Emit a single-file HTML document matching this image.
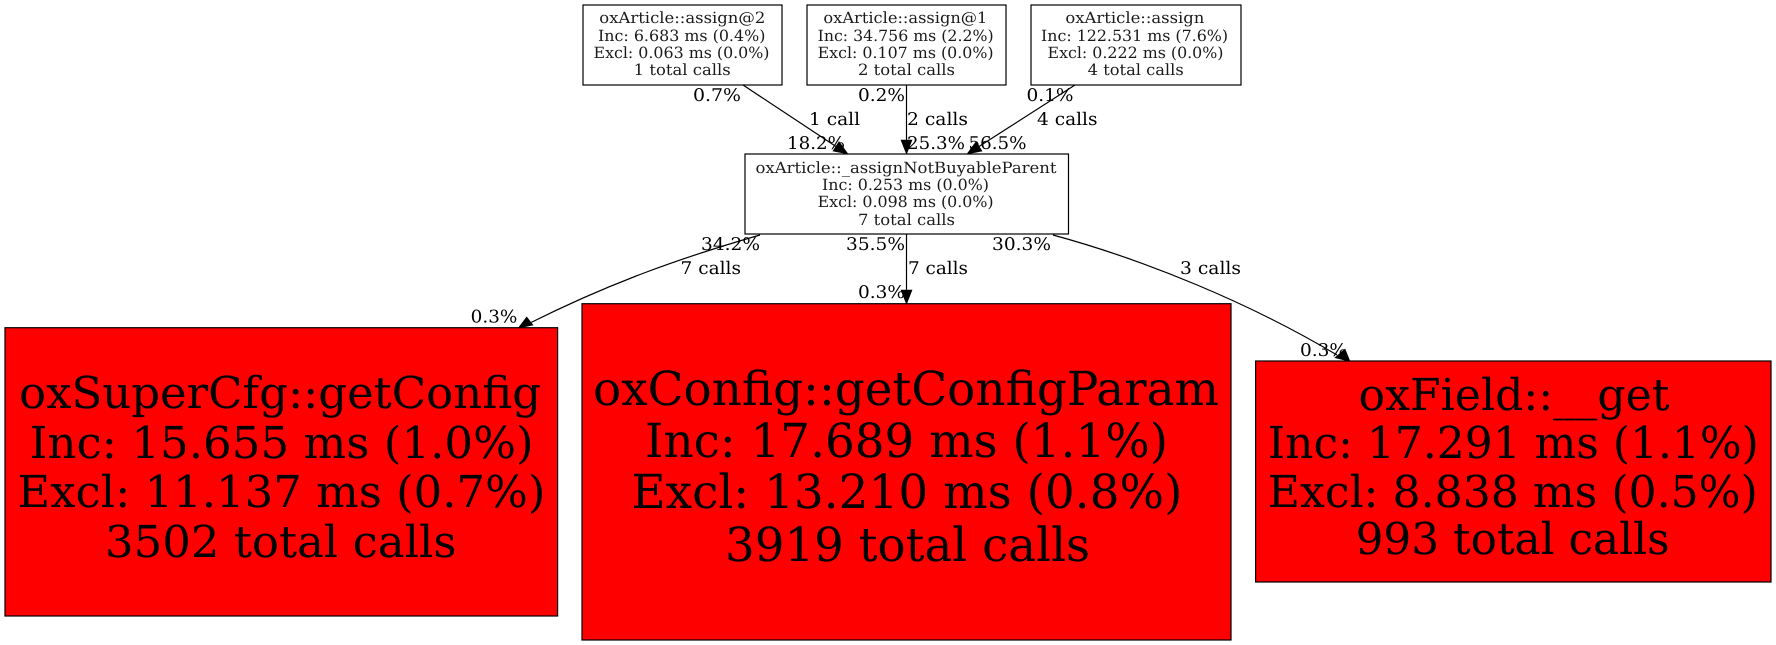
<!DOCTYPE html>
<html><head><meta charset="utf-8"><style>
html,body{margin:0;padding:0;background:#fff;width:1776px;height:645px;overflow:hidden}
svg{display:block}
text{font-family:"DejaVu Serif","Liberation Serif",serif;fill:#000;font-variant-ligatures:common-ligatures;text-rendering:geometricPrecision}
.s{font-size:15.5px;fill:#1a1a1a}.e{font-size:17.5px}.b{font-size:44px}.p{font-size:47px}
rect{stroke:#000;stroke-width:1.2}
path,line{stroke:#000;stroke-width:1.2;fill:none}
polygon{fill:#000;stroke:#000;stroke-width:.6}
</style></head><body>
<svg width="1776" height="645" viewBox="0 0 1776 645" xmlns="http://www.w3.org/2000/svg">
<line x1="743" y1="85" x2="836" y2="146.5"/>
<polygon points="848,154 833,151 839,141.7"/>
<line x1="906.5" y1="85" x2="906.5" y2="141"/>
<polygon points="906.5,154 901,140 912,140"/>
<line x1="1075" y1="85" x2="979" y2="146.5"/>
<polygon points="967,154 976,141.8 982,151"/>
<path d="M760,235 C680,258 610,283 530,323"/>
<polygon points="518.3,328 526.7,317 533,325"/>
<line x1="906.5" y1="234" x2="906.5" y2="291"/>
<polygon points="906.5,304 901,290 912,290"/>
<path d="M1053,235 C1145,260 1250,303 1337,355"/>
<polygon points="1350,361.5 1345,349 1335,357.7"/>

<rect x="583" y="5" width="199" height="80" fill="#fff"/>
<rect x="807" y="5" width="199" height="80" fill="#fff"/>
<rect x="1031" y="5" width="210" height="80" fill="#fff"/>
<rect x="745" y="154" width="323.5" height="80" fill="#fff"/>
<rect x="5" y="327.7" width="552.6" height="288.3" fill="#f00"/>
<rect x="582" y="303.7" width="649" height="336.3" fill="#f00"/>
<rect x="1255.6" y="361" width="515.4" height="221" fill="#f00"/>

<text class="s" x="599.3" y="23" textLength="166" lengthAdjust="spacingAndGlyphs">oxArticle::assign@2</text>
<text class="s" x="598" y="41" textLength="167.4" lengthAdjust="spacingAndGlyphs">Inc: 6.683 ms (0.4%)</text>
<text class="s" x="593.5" y="58" textLength="176" lengthAdjust="spacingAndGlyphs">Excl: 0.063 ms (0.0%)</text>
<text class="s" x="633.7" y="75" textLength="97" lengthAdjust="spacingAndGlyphs">1 total calls</text>

<text class="s" x="823.4" y="23" textLength="164" lengthAdjust="spacingAndGlyphs">oxArticle::assign@1</text>
<text class="s" x="817.6" y="41" textLength="176" lengthAdjust="spacingAndGlyphs">Inc: 34.756 ms (2.2%)</text>
<text class="s" x="817.6" y="58" textLength="176" lengthAdjust="spacingAndGlyphs">Excl: 0.107 ms (0.0%)</text>
<text class="s" x="858" y="75" textLength="97" lengthAdjust="spacingAndGlyphs">2 total calls</text>

<text class="s" x="1065.4" y="23" textLength="139" lengthAdjust="spacingAndGlyphs">oxArticle::assign</text>
<text class="s" x="1041" y="41" textLength="187" lengthAdjust="spacingAndGlyphs">Inc: 122.531 ms (7.6%)</text>
<text class="s" x="1047.5" y="58" textLength="176" lengthAdjust="spacingAndGlyphs">Excl: 0.222 ms (0.0%)</text>
<text class="s" x="1087.7" y="75" textLength="96" lengthAdjust="spacingAndGlyphs">4 total calls</text>

<text class="s" x="755.5" y="173" textLength="301" lengthAdjust="spacingAndGlyphs">oxArticle::_assignNotBuyableParent</text>
<text class="s" x="822" y="190" textLength="167" lengthAdjust="spacingAndGlyphs">Inc: 0.253 ms (0.0%)</text>
<text class="s" x="817.6" y="207" textLength="176" lengthAdjust="spacingAndGlyphs">Excl: 0.098 ms (0.0%)</text>
<text class="s" x="858" y="225" textLength="97" lengthAdjust="spacingAndGlyphs">7 total calls</text>

<text class="b" x="19" y="408" textLength="522" lengthAdjust="spacingAndGlyphs">oxSuperCfg::getConfig</text>
<text class="b" x="29.6" y="458" textLength="504" lengthAdjust="spacingAndGlyphs">Inc: 15.655 ms (1.0%)</text>
<text class="b" x="17.4" y="507" textLength="528" lengthAdjust="spacingAndGlyphs">Excl: 11.137 ms (0.7%)</text>
<text class="b" x="105" y="557" textLength="351.5" lengthAdjust="spacingAndGlyphs">3502 total calls</text>

<text class="p" x="593" y="405" textLength="626" lengthAdjust="spacingAndGlyphs">oxConfig::getConfigParam</text>
<text class="p" x="645" y="457" textLength="523" lengthAdjust="spacingAndGlyphs">Inc: 17.689 ms (1.1%)</text>
<text class="p" x="631.4" y="508" textLength="551" lengthAdjust="spacingAndGlyphs">Excl: 13.210 ms (0.8%)</text>
<text class="p" x="725" y="561" textLength="365" lengthAdjust="spacingAndGlyphs">3919 total calls</text>

<text class="b" x="1358.5" y="410" textLength="311" lengthAdjust="spacingAndGlyphs">oxField::__get</text>
<text class="b" x="1267.8" y="458" textLength="491" lengthAdjust="spacingAndGlyphs">Inc: 17.291 ms (1.1%)</text>
<text class="b" x="1267.8" y="507" textLength="490" lengthAdjust="spacingAndGlyphs">Excl: 8.838 ms (0.5%)</text>
<text class="b" x="1355.6" y="554" textLength="314" lengthAdjust="spacingAndGlyphs">993 total calls</text>

<text class="e" x="693" y="101" textLength="48" lengthAdjust="spacingAndGlyphs">0.7%</text>
<text class="e" x="809" y="125" textLength="51" lengthAdjust="spacingAndGlyphs">1 call</text>
<text class="e" x="787" y="149" textLength="58" lengthAdjust="spacingAndGlyphs">18.2%</text>
<text class="e" x="858" y="101" textLength="47" lengthAdjust="spacingAndGlyphs">0.2%</text>
<text class="e" x="907" y="125" textLength="61" lengthAdjust="spacingAndGlyphs">2 calls</text>
<text class="e" x="907" y="149" textLength="58" lengthAdjust="spacingAndGlyphs">25.3%</text>
<text class="e" x="1026.5" y="101" textLength="47" lengthAdjust="spacingAndGlyphs">0.1%</text>
<text class="e" x="1037" y="125" textLength="60.5" lengthAdjust="spacingAndGlyphs">4 calls</text>
<text class="e" x="968.5" y="149" textLength="58" lengthAdjust="spacingAndGlyphs">56.5%</text>
<text class="e" x="701" y="250" textLength="59" lengthAdjust="spacingAndGlyphs">34.2%</text>
<text class="e" x="680.5" y="274" textLength="60.5" lengthAdjust="spacingAndGlyphs">7 calls</text>
<text class="e" x="846" y="250" textLength="59" lengthAdjust="spacingAndGlyphs">35.5%</text>
<text class="e" x="908" y="274" textLength="60" lengthAdjust="spacingAndGlyphs">7 calls</text>
<text class="e" x="992" y="250" textLength="59" lengthAdjust="spacingAndGlyphs">30.3%</text>
<text class="e" x="1180" y="274" textLength="61" lengthAdjust="spacingAndGlyphs">3 calls</text>
<text class="e" x="858" y="298" textLength="47" lengthAdjust="spacingAndGlyphs">0.3%</text>
<text class="e" x="470.7" y="322.7" textLength="46.7" lengthAdjust="spacingAndGlyphs">0.3%</text>
<text class="e" x="1300" y="356" textLength="47" lengthAdjust="spacingAndGlyphs">0.3%</text>
</svg>
</body></html>
